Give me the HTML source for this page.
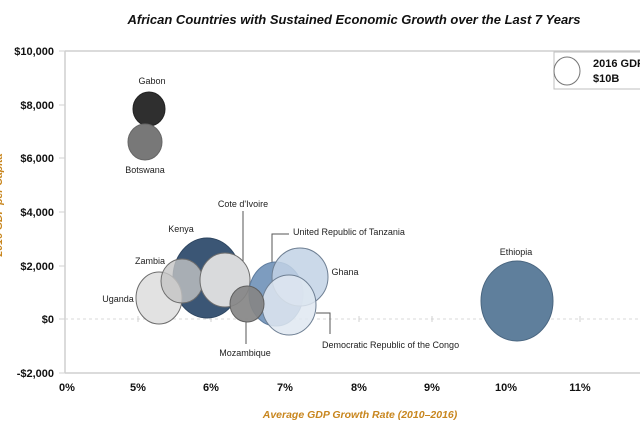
<!DOCTYPE html>
<html><head><meta charset="utf-8">
<style>
html,body{margin:0;padding:0;background:#fff;}
svg{display:block;}
text{font-family:"Liberation Sans",Arial,sans-serif;}
</style></head>
<body>
<svg width="640" height="426" viewBox="0 0 640 426" xmlns="http://www.w3.org/2000/svg">
<rect width="640" height="426" fill="#fff"/>
<!-- title -->
<text x="354" y="24" font-size="13" font-weight="bold" font-style="italic" fill="#111" text-anchor="middle">African Countries with Sustained Economic Growth over the Last 7 Years</text>

<!-- y-axis title (clipped) -->
<text transform="translate(2,205) rotate(-90)" font-size="10.5" font-weight="bold" font-style="italic" fill="#c8861e" text-anchor="middle">2016 GDP per Capita</text>

<!-- axes -->
<line x1="65" y1="51" x2="640" y2="51" stroke="#cfcfcf" stroke-width="1.5"/>
<line x1="65" y1="51" x2="65" y2="373" stroke="#cfcfcf" stroke-width="1.5"/>
<line x1="65" y1="373" x2="640" y2="373" stroke="#cfcfcf" stroke-width="1.5"/>
<line x1="65" y1="319" x2="640" y2="319" stroke="#d8d8d8" stroke-width="1" stroke-dasharray="3,3"/>
<g stroke="#d0d0d0" stroke-width="1">
<line x1="59" y1="51" x2="65" y2="51"/><line x1="59" y1="105" x2="65" y2="105"/><line x1="59" y1="158" x2="65" y2="158"/><line x1="59" y1="212" x2="65" y2="212"/><line x1="59" y1="266" x2="65" y2="266"/><line x1="59" y1="319" x2="65" y2="319"/><line x1="59" y1="373" x2="65" y2="373"/>
<line x1="138" y1="316" x2="138" y2="322"/><line x1="211" y1="316" x2="211" y2="322"/><line x1="285" y1="316" x2="285" y2="322"/><line x1="359" y1="316" x2="359" y2="322"/><line x1="432" y1="316" x2="432" y2="322"/><line x1="506" y1="316" x2="506" y2="322"/><line x1="580" y1="316" x2="580" y2="322"/>
</g>

<!-- y tick labels -->
<g font-size="11" font-weight="bold" fill="#111" text-anchor="end">
<text x="54" y="55">$10,000</text>
<text x="54" y="109">$8,000</text>
<text x="54" y="162">$6,000</text>
<text x="54" y="216">$4,000</text>
<text x="54" y="270">$2,000</text>
<text x="54" y="323">$0</text>
<text x="54" y="377">-$2,000</text>
</g>
<!-- x tick labels -->
<g font-size="11" font-weight="bold" fill="#111" text-anchor="middle">
<text x="67" y="391">0%</text>
<text x="138" y="391">5%</text>
<text x="211" y="391">6%</text>
<text x="285" y="391">7%</text>
<text x="359" y="391">8%</text>
<text x="432" y="391">9%</text>
<text x="506" y="391">10%</text>
<text x="580" y="391">11%</text>
</g>
<text x="360" y="418" font-size="10.5" font-weight="bold" font-style="italic" fill="#c8861e" text-anchor="middle">Average GDP Growth Rate (2010–2016)</text>

<!-- leader lines -->
<g stroke="#555" stroke-width="1" fill="none">
<polyline points="243,211 243,284"/>
<polyline points="289,234 272,234 272,264"/>
<polyline points="316,313 330,313 330,334"/>
<polyline points="246,322 246,344"/>
</g>

<!-- bubbles -->
<ellipse cx="149" cy="109" rx="16" ry="17" fill="#2f2f2f" stroke="#222" stroke-width="1"/>
<ellipse cx="145" cy="142" rx="17" ry="18" fill="#787878" stroke="#666" stroke-width="1"/>

<ellipse cx="207" cy="278" rx="34" ry="40" fill="#3b5675" stroke="#2d4560" stroke-width="1"/>
<ellipse cx="159" cy="298" rx="23" ry="26" fill="#e2e2e2" stroke="#6d6d6d" stroke-width="1"/>
<ellipse cx="182" cy="281" rx="21" ry="22" fill="#c4c4c4" fill-opacity="0.8" stroke="#6d6d6d" stroke-width="1"/>
<ellipse cx="225" cy="280" rx="25" ry="27" fill="#d9dadc" stroke="#6d6d6d" stroke-width="1"/>

<ellipse cx="276" cy="294" rx="27" ry="32" fill="#7d9cbf" stroke="#5f7d9f" stroke-width="1"/>
<ellipse cx="300" cy="277" rx="28" ry="29" fill="#c2d2e5" fill-opacity="0.85" stroke="#6e7f93" stroke-width="1"/>
<ellipse cx="289" cy="305" rx="27" ry="30" fill="#dfe7f1" fill-opacity="0.85" stroke="#6e7f93" stroke-width="1"/>
<ellipse cx="247" cy="304" rx="17" ry="18" fill="#858585" fill-opacity="0.92" stroke="#5e5e5e" stroke-width="1"/>

<ellipse cx="517" cy="301" rx="36" ry="40" fill="#5f7f9c" stroke="#4a6680" stroke-width="1"/>

<!-- labels -->
<g font-size="9" fill="#222" text-anchor="middle">
<text x="152" y="84">Gabon</text>
<text x="145" y="173">Botswana</text>
<text x="181" y="232">Kenya</text>
<text x="150" y="264">Zambia</text>
<text x="118" y="302">Uganda</text>
<text x="243" y="207">Cote d'Ivoire</text>
<text x="345" y="275">Ghana</text>
<text x="516" y="255">Ethiopia</text>
<text x="245" y="356">Mozambique</text>
</g>
<g font-size="9" fill="#222">
<text x="293" y="235">United Republic of Tanzania</text>
<text x="322" y="348">Democratic Republic of the Congo</text>
</g>

<!-- legend -->
<rect x="554" y="52" width="90" height="37" fill="#fff" stroke="#bfbfbf" stroke-width="1"/>
<ellipse cx="567" cy="71" rx="13" ry="14" fill="#fff" stroke="#777" stroke-width="1"/>
<g font-size="11" font-weight="bold" fill="#111">
<text x="593" y="67">2016 GDP</text>
<text x="593" y="82">$10B</text>
</g>
</svg>
</body></html>
